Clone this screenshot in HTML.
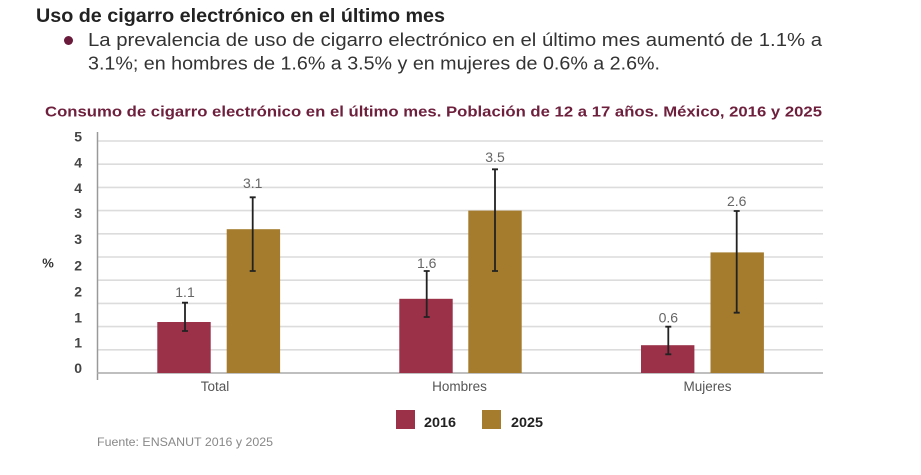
<!DOCTYPE html>
<html><head><meta charset="utf-8">
<style>
html,body{margin:0;padding:0;background:#fff;}
svg{display:block;}
text{font-family:"Liberation Sans",sans-serif;}
</style></head>
<body>
<svg width="921" height="475" viewBox="0 0 921 475" xmlns="http://www.w3.org/2000/svg">
<rect width="921" height="475" fill="#fff"/>
<text x="36" y="22" font-size="19" font-weight="bold" fill="#222" textLength="409" lengthAdjust="spacingAndGlyphs">Uso de cigarro electrónico en el último mes</text>
<circle cx="68.5" cy="40.5" r="4.5" fill="#6a1a3a"/>
<text x="88" y="46" font-size="18" fill="#333" textLength="734" lengthAdjust="spacingAndGlyphs">La prevalencia de uso de cigarro electrónico en el último mes aumentó de 1.1% a</text>
<text x="88" y="69.5" font-size="18" fill="#333" textLength="572" lengthAdjust="spacingAndGlyphs">3.1%; en hombres de 1.6% a 3.5% y en mujeres de 0.6% a 2.6%.</text>
<text x="45" y="116.5" font-size="15" font-weight="bold" fill="#6d1f3c" textLength="777" lengthAdjust="spacingAndGlyphs">Consumo de cigarro electrónico en el último mes. Población de 12 a 17 años. México, 2016 y 2025</text>

<g stroke="#dcdcdc" stroke-width="1.6">
<line x1="98" x2="823" y1="141" y2="141"/>
<line x1="98" x2="823" y1="164.2" y2="164.2"/>
<line x1="98" x2="823" y1="187.4" y2="187.4"/>
<line x1="98" x2="823" y1="210.6" y2="210.6"/>
<line x1="98" x2="823" y1="233.8" y2="233.8"/>
<line x1="98" x2="823" y1="257" y2="257"/>
<line x1="98" x2="823" y1="280.2" y2="280.2"/>
<line x1="98" x2="823" y1="303.4" y2="303.4"/>
<line x1="98" x2="823" y1="326.6" y2="326.6"/>
<line x1="98" x2="823" y1="349.8" y2="349.8"/>
</g>
<line x1="97.5" x2="97.5" y1="132" y2="380" stroke="#999" stroke-width="1.5"/>
<line x1="97" x2="823" y1="373" y2="373" stroke="#aaa" stroke-width="1.6"/>

<g font-size="14" font-weight="bold" fill="#444" text-anchor="end">
<text x="82" y="141.5">5</text>
<text x="82" y="167.5">4</text>
<text x="82" y="193">4</text>
<text x="82" y="218">3</text>
<text x="82" y="244">3</text>
<text x="82" y="270.5">2</text>
<text x="82" y="296.5">2</text>
<text x="82" y="322.5">1</text>
<text x="82" y="347.5">1</text>
<text x="82" y="373">0</text>
</g>
<text x="48" y="267.5" font-size="13" font-weight="bold" fill="#333" text-anchor="middle">%</text>

<g fill="#9b3149">
<rect x="157.3" y="322" width="53.4" height="51"/>
<rect x="399.3" y="298.8" width="53.4" height="74.2"/>
<rect x="641" y="345.2" width="53.4" height="27.8"/>
</g>
<g fill="#a57c2d">
<rect x="226.7" y="229.2" width="53.4" height="143.8"/>
<rect x="468.3" y="210.6" width="53.4" height="162.4"/>
<rect x="710.5" y="252.4" width="53.4" height="120.6"/>
</g>

<g stroke="#222" stroke-width="1.8" fill="none">
<path d="M185 302.7V331M182 302.7h6M182 331h6"/>
<path d="M252.7 197.3V271M249.7 197.3h6M249.7 271h6"/>
<path d="M426.7 271V317M423.7 271h6M423.7 317h6"/>
<path d="M495 169.3V271M492 169.3h6M492 271h6"/>
<path d="M668.3 326.7V354.3M665.3 326.7h6M665.3 354.3h6"/>
<path d="M736.7 211V312.7M733.7 211h6M733.7 312.7h6"/>
</g>

<g font-size="14" fill="#666" text-anchor="middle">
<text x="185" y="297">1.1</text>
<text x="252.7" y="188">3.1</text>
<text x="426.7" y="268">1.6</text>
<text x="495" y="162">3.5</text>
<text x="668.3" y="322.5">0.6</text>
<text x="736.7" y="206">2.6</text>
</g>

<g font-size="13.5" fill="#555" text-anchor="middle">
<text x="215" y="391">Total</text>
<text x="459.5" y="391">Hombres</text>
<text x="707.5" y="391">Mujeres</text>
</g>

<rect x="396" y="410" width="19" height="19" fill="#9b3149"/>
<text x="424" y="427" font-size="14" font-weight="bold" fill="#222" textLength="32" lengthAdjust="spacingAndGlyphs">2016</text>
<rect x="482" y="410" width="19" height="19" fill="#a57c2d"/>
<text x="511" y="427" font-size="14" font-weight="bold" fill="#222" textLength="32" lengthAdjust="spacingAndGlyphs">2025</text>

<text x="97" y="446" font-size="12" fill="#888" textLength="176" lengthAdjust="spacingAndGlyphs">Fuente: ENSANUT 2016 y 2025</text>
</svg>
</body></html>
